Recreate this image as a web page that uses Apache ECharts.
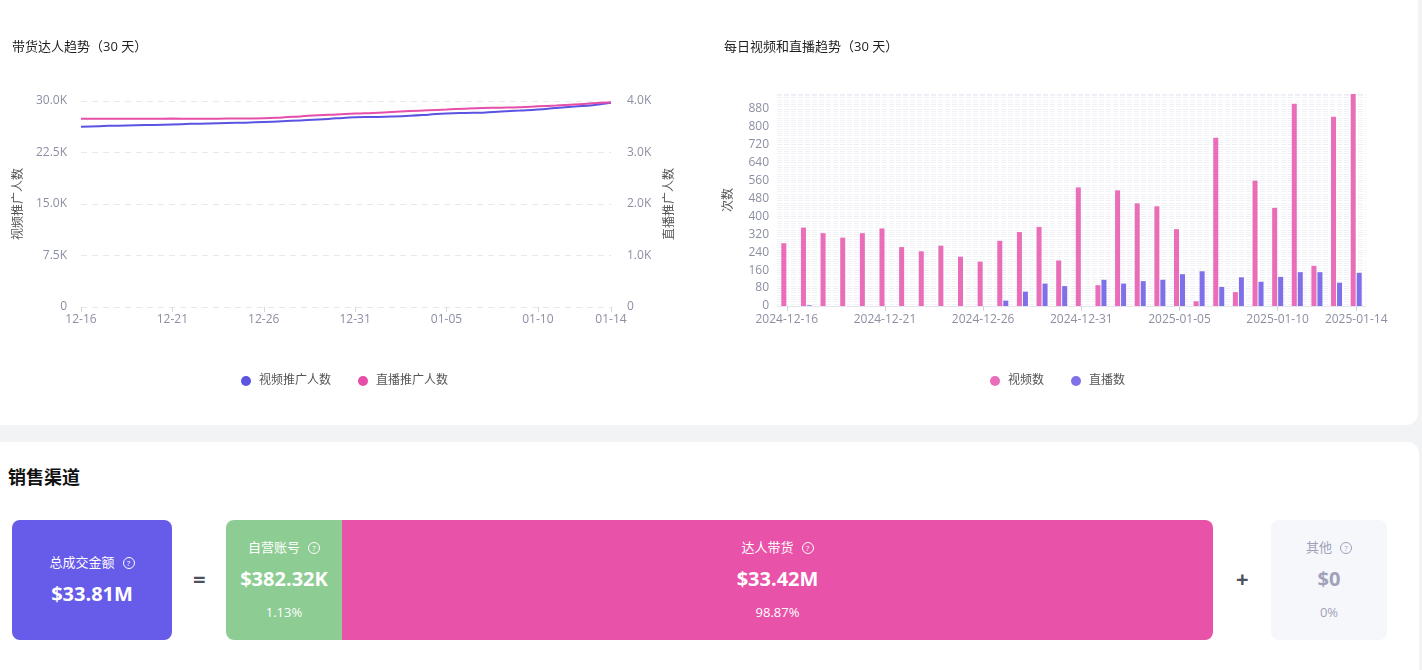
<!DOCTYPE html>
<html>
<head>
<meta charset="UTF-8">
<title>带货达人趋势</title>
<script src="https://cdn.jsdelivr.net/npm/echarts@6/dist/echarts.min.js"></script>
<style>
  body { margin: 0; width: 1422px; height: 670px; background: #f2f3f5; position: relative; overflow: hidden;
         font-family: 'Open Sans', 'Noto Sans CJK SC', sans-serif; }
  .card { position: absolute; background: #fff; border-radius: 12px; }
  #topCard { left: -12px; top: -12px; width: 1430px; height: 437px; }
  #bottomCard { left: -12px; top: 442px; width: 1431px; height: 260px; }
  #main { position: absolute; left: 0; top: 0; width: 1422px; height: 425px; }
  .title { position: absolute; left: 8px; top: 463px; font-size: 18px; font-weight: 700; color: #111; }
  .box { position: absolute; top: 520px; height: 120px; color: #fff; text-align: center; box-sizing: border-box; }
  .lab { font-size: 13px; }
  .val { font-size: 20px; font-weight: 700; }
  .pct { font-size: 13px; }
  .q { display: inline-block; width: 10px; height: 10px; border: 1px solid currentColor; border-radius: 50%;
       font-size: 8px; line-height: 10px; text-align: center; margin-left: 8px; vertical-align: 1px; }
  .op { position: absolute; top: 563px; font-size: 22px; font-weight: 700; color: #4b5160; }
</style>
</head>
<body>
<div class="card" id="topCard"></div>
<div class="card" id="bottomCard"></div>
<div id="main"></div>
<div class="title">销售渠道</div>
<div id="channels"></div>
<script>
// 带货达人趋势（30 天）
var lineDays = ['12-16','12-17','12-18','12-19','12-20','12-21','12-22','12-23','12-24','12-25',
  '12-26','12-27','12-28','12-29','12-30','12-31','01-01','01-02','01-03','01-04',
  '01-05','01-06','01-07','01-08','01-09','01-10','01-11','01-12','01-13','01-14'];
var videoPromoters = [26250,26340,26410,26470,26520,26590,26670,26730,26790,26850,
  26940,27050,27170,27290,27470,27620,27670,27740,27850,28010,
  28190,28270,28300,28470,28610,28760,28990,29190,29390,29740];
var livePromoters = [3657,3657,3656,3657,3657,3658,3657,3657,3659,3661,
  3664,3679,3701,3724,3739,3757,3769,3787,3804,3819,
  3834,3851,3864,3871,3881,3897,3914,3934,3954,3975];

// 每日视频和直播趋势（30 天）
var barDays = ['2024-12-16','2024-12-17','2024-12-18','2024-12-19','2024-12-20','2024-12-21','2024-12-22','2024-12-23','2024-12-24','2024-12-25',
  '2024-12-26','2024-12-27','2024-12-28','2024-12-29','2024-12-30','2024-12-31','2025-01-01','2025-01-02','2025-01-03','2025-01-04',
  '2025-01-05','2025-01-06','2025-01-07','2025-01-08','2025-01-09','2025-01-10','2025-01-11','2025-01-12','2025-01-13','2025-01-14'];
var videoCounts = [280,350,325,305,325,346,263,244,269,220,
  198,291,330,353,203,529,93,516,458,445,
  343,21,751,62,559,438,902,179,844,946];
var liveCounts = [0,3,0,0,0,0,0,0,0,0,
  0,24,64,100,89,0,117,100,111,117,
  142,155,85,128,108,130,151,151,104,148];

// 销售渠道
var channelNames = ['自营账号', '达人带货'];
var channelValues = ['$382.32K', '$33.42M'];
var channelShares = ['1.13%', '98.87%'];
var totalLabel = '总成交金额', totalValue = '$33.81M';
var otherLabel = '其他', otherValue = '$0', otherShare = '0%';

var axisGray = '#8c8fa3';
var fmtK = function (v) { return v === 0 ? '0' : (v / 1000).toFixed(1) + 'K'; };
var legendText = { color: '#555', fontSize: 12, padding: [0, 0, 0, 3] };

var chart = echarts.init(document.getElementById('main'));
chart.setOption({
  textStyle: { fontFamily: "'Open Sans', 'Noto Sans CJK SC', sans-serif" },
  title: [
    { text: '带货达人趋势（30 天）', left: 7, top: 36, textStyle: { fontSize: 13, fontWeight: 'normal', color: '#1d1d1f' } },
    { text: '每日视频和直播趋势（30 天）', left: 719, top: 36, textStyle: { fontSize: 13, fontWeight: 'normal', color: '#1d1d1f' } }
  ],
  legend: [
    { data: ['视频推广人数', '直播推广人数'], left: 236, top: 370, icon: 'circle', itemWidth: 10, itemHeight: 10, itemGap: 27,
      textStyle: legendText },
    { data: ['视频数', '直播数'], left: 985, top: 370, icon: 'circle', itemWidth: 10, itemHeight: 10, itemGap: 27,
      textStyle: legendText }
  ],
  grid: [
    { left: 81, top: 101, width: 530, height: 206 },
    { left: 777, top: 94, width: 589, height: 212 }
  ],
  xAxis: [
    { type: 'category', gridIndex: 0, data: lineDays, boundaryGap: false,
      axisLine: { show: false },
      axisTick: { show: true, length: 5, lineStyle: { color: '#d3d6df' }, interval: 4 },
      axisLabel: { color: axisGray, fontSize: 12, margin: 7, interval: 4, showMaxLabel: true } },
    { type: 'category', gridIndex: 1, data: barDays,
      axisLine: { show: true, lineStyle: { color: '#e3e5ec' } },
      axisTick: { show: true, alignWithLabel: true, length: 5, lineStyle: { color: '#d3d6df' }, interval: 4 },
      axisLabel: { color: axisGray, fontSize: 12, margin: 8, interval: 4, showMaxLabel: true } }
  ],
  yAxis: [
    { type: 'value', gridIndex: 0, min: 0, max: 30000, interval: 7500,
      name: '视频推广人数', nameLocation: 'middle', nameGap: 56, nameTextStyle: { color: '#555', fontSize: 12 },
      axisLabel: { color: axisGray, fontSize: 12, margin: 14, formatter: fmtK },
      splitLine: { lineStyle: { color: '#e6e8ee', type: [6, 5] } } },
    { type: 'value', gridIndex: 0, min: 0, max: 4000, interval: 1000, position: 'right',
      name: '直播推广人数', nameLocation: 'middle', nameGap: 53, nameTextStyle: { color: '#555', fontSize: 12 },
      axisLabel: { color: axisGray, fontSize: 12, margin: 16, formatter: fmtK },
      splitLine: { show: false } },
    { type: 'value', gridIndex: 1, min: 0, max: function (e) { return e.max; }, interval: 80,
      name: '次数', nameLocation: 'middle', nameGap: 42, nameTextStyle: { color: '#555', fontSize: 12 },
      axisLabel: { color: axisGray, fontSize: 12, margin: 8, showMaxLabel: false },
      splitLine: { lineStyle: { color: '#eceef4', type: [5, 2] } },
      minorTick: { show: false, splitNumber: 8 },
      minorSplitLine: { show: true, lineStyle: { color: '#f1f2f7', type: [5, 2] } } }
  ],
  series: [
    { name: '视频推广人数', type: 'line', xAxisIndex: 0, yAxisIndex: 0, data: videoPromoters,
      showSymbol: false, smooth: true, color: '#5b53e2', lineStyle: { width: 2 } },
    { name: '直播推广人数', type: 'line', xAxisIndex: 0, yAxisIndex: 1, data: livePromoters,
      showSymbol: false, smooth: true, color: '#e64ea9', lineStyle: { width: 2 } },
    { name: '视频数', type: 'bar', xAxisIndex: 1, yAxisIndex: 2, data: videoCounts,
      barWidth: 5, barGap: '20%', color: '#e96db8' },
    { name: '直播数', type: 'bar', xAxisIndex: 1, yAxisIndex: 2, data: liveCounts,
      barWidth: 5, barGap: '20%', color: '#7f6fe8' }
  ]
});

// sales channel cards
var q = '<span class="q">?</span>';
var html = '';
html += '<div class="box" style="left:12px;width:160px;background:#675be9;border-radius:8px;padding-top:32px">' +
  '<div class="lab">' + totalLabel + q + '</div><div class="val" style="margin-top:9px">' + totalValue + '</div></div>';
html += '<div class="op" style="left:193px">=</div>';
var lefts = [226, 342], widths = [116, 871], colors = ['#8dcc93', '#e952a9'];
var radii = ['8px 0 0 8px', '0 8px 8px 0'];
for (var i = 0; i < channelNames.length; i++) {
  html += '<div class="box" style="left:' + lefts[i] + 'px;width:' + widths[i] + 'px;background:' + colors[i] +
    ';border-radius:' + radii[i] + ';padding-top:17px">' +
    '<div class="lab">' + channelNames[i] + q + '</div>' +
    '<div class="val" style="margin-top:9px">' + channelValues[i] + '</div>' +
    '<div class="pct" style="margin-top:11px">' + channelShares[i] + '</div></div>';
}
html += '<div class="op" style="left:1236px">+</div>';
html += '<div class="box" style="left:1271px;width:116px;background:#f6f7fb;border-radius:8px;padding-top:17px;color:#9fa2ba">' +
  '<div class="lab">' + otherLabel + q + '</div>' +
  '<div class="val" style="margin-top:9px">' + otherValue + '</div>' +
  '<div class="pct" style="margin-top:11px">' + otherShare + '</div></div>';
document.getElementById('channels').innerHTML = html;
</script>
</body>
</html>
